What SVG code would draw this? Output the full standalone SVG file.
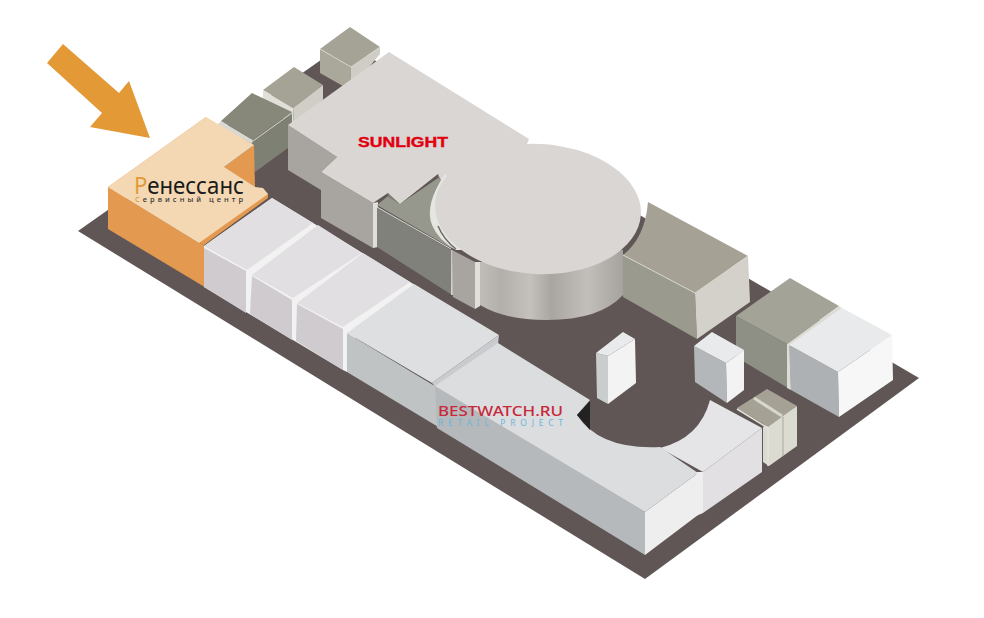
<svg xmlns="http://www.w3.org/2000/svg" width="984" height="618" viewBox="0 0 984 618">
<style>
.sans{font-family:"Noto Sans","Open Sans","Liberation Sans",sans-serif}
.strip{fill:#f2f2f2}
.rowtop{fill:#e1dfe1}
.rowleft{fill:#cfcbcf}
.slate{fill:#a8a4a0}
.roof{fill:#d9d6d3}
</style>
<defs>
<linearGradient id="cyl" x1="0" x2="1" y1="0" y2="0">
<stop offset="0" stop-color="#c0bdb9"/><stop offset=".15" stop-color="#b3b0ab"/><stop offset=".35" stop-color="#c4c1bd"/><stop offset=".5" stop-color="#a9a6a1"/><stop offset=".75" stop-color="#c2bfbb"/><stop offset="1" stop-color="#a6a39e"/>
</linearGradient>
</defs>
<rect width="984" height="618" fill="#fff"/>
<polygon id="ground" points="78,231 345,43 919,378 645,579" fill="#615656"/>

<g id="cube-back">
<polygon points="320,49 350,27 380,47 351,67" fill="#a5a395"/>
<polygon points="320,49 351,67 350,90 320,73" fill="#a9a89b"/>
<polygon points="351,67 380,47 380,54 350,90" fill="#cfcdc5"/>
<polyline points="320,49 351,67 380,47" fill="none" stroke="#d8d7cf" stroke-width="1"/>
</g>
<g id="cube-2">
<polygon points="263,90 294,67 323,85 293,108" fill="#a5a395"/>
<polygon points="293,108 323,85 323,100 294,125" fill="#d0cec6"/>
<polygon points="263,90 293,108 294,125 263,105" fill="#e0dfd8"/>
</g>
<g id="cube-1">
<polygon points="217,125 221,121 253,140 254,145" fill="#d9d9d2"/>
<polygon points="221,121 252,93 292,112 253,140" fill="#878879"/>
<polygon points="253,140 292,112 292,145 255,172 250,150" fill="#7f8074"/>
<polyline points="253,141 292,113" fill="none" stroke="#d5d5cc" stroke-width="1"/>
</g>

<g id="sunlight">
<polygon class="slate" points="288,125 337,157 321,172 321,190 288,170"/>
<polygon class="slate" points="321,172 373,203 373,248 321,218"/>
<polygon points="373,203 378,202 378,247 373,248" fill="#e0dfdb"/>
<polygon points="377,207 451,250 452,295 377,247" fill="#80817a"/>
<polygon points="377,205 388,196 400,204 438,178 445,175 432,200 437,227 456,249 451,248" fill="#96978d"/>
<polyline points="377,207 451,249" fill="none" stroke="#dcdcd5" stroke-width="1"/>
<line x1="452" y1="250" x2="452" y2="295" stroke="#eeeeea" stroke-width="1.500"/>
<polygon class="slate" points="452,250 475,262 475,309 453,297"/>
<polygon points="475,262 480,262 480,306 475,309" fill="#e0dfdb"/>
<path d="M480,262 L623,250 L623,295 Q600,320 547,320 Q505,320 480,305 Z" fill="url(#cyl)"/>
<polygon points="388,193 400,201 400,204 388,197" fill="#7f7d78"/>
<polygon points="438,174 445,176 443,181 438,178" fill="#7f7d78"/>
<polygon class="roof" points="389,52 529,139 527,144 560,180 470,240 438,174 400,204 388,193 373,203 321,172 337,157 288,125"/>
<path d="M445,174 Q424,205 432,225 Q438,240 456,250 L470,250 L460,190 Z" fill="#e6e6e0"/>
<path d="M438,226 Q444,240 456,249" fill="none" stroke="#6f6d69" stroke-width="1.500"/>
<ellipse cx="538" cy="209" rx="103" ry="65" transform="rotate(3 538 209)" class="roof"/>
</g>

<g id="block-big">
<polygon points="623,255 695,293 697,339 623,297" fill="#9b9a8e"/>
<polygon points="695,293 748,256 750,302 697,339" fill="#d3d1ca"/>
<path d="M648,202 L748,256 L695,293 L623,255 Q645,238 648,202 Z" fill="#a5a295"/>
<polyline points="623,255 695,293 748,256" fill="none" stroke="#dcdad2" stroke-width="1"/>
</g>

<g id="cube-green">
<polygon points="736,316 787,344 788,388 736,357" fill="#8e8f85"/>
<polygon points="736,316 790,278 839,306 787,344" fill="#a3a397"/>
<polygon points="787,344 839,306 842,308 790,346 791,390 787,388" fill="#dcdcd4"/>
</g>
<g id="cube-white">
<polygon points="789,345 838,372 839,417 791,390" fill="#adb1b3"/>
<polygon points="838,372 892,335 893,380 839,417" fill="#f7f7f7"/>
<polygon points="789,345 842,308 892,335 838,372" fill="#e9eaeb"/>
</g>
<g id="cube-small">
<polygon points="694,346 726,363 727,403 695,382" fill="#b3b7b9"/>
<polygon points="726,363 744,350 744,390 727,403" fill="#f3f3f3"/>
<polygon points="694,346 712,332 744,350 726,363" fill="#e9eaec"/>
</g>
<g id="tower">
<polygon points="596,353 608,356 608,404 597,398" fill="#c9cdce"/>
<polygon points="608,356 635,339 636,383 608,404" fill="#f3f3f3"/>
<polygon points="596,353 623,332 635,339 608,356" fill="#e9eaec"/>
</g>
<g id="kiosk">
<polygon points="763,427 797,406 797,446 769,466 763,462" fill="#dcdbd2"/>
<polygon points="737,408 767,389 797,406 768,427" fill="#a5a295"/>
<line x1="754" y1="398" x2="782" y2="416" stroke="#d8d7ce" stroke-width="3"/>
<polyline points="737,409 768,428 768,466" fill="none" stroke="#e4e3dc" stroke-width="1.500"/>
<line x1="783" y1="417" x2="783" y2="456" stroke="#a9a89d" stroke-width="1"/>
</g>

<g id="renaissance">
<polygon points="108,187 199,243 204,245 268,198 268,194 255,187 254,145 224,167 206,117" fill="#e39a50"/>
<polygon points="108,187 199,243 204,245 204,287 203,286 108,229" fill="#e39a50"/>
<polygon points="108,187 206,117 254,145 224,167 255,187 263,188 268,194 199,243" fill="#f3d8b3"/>
</g>

<g id="row">
<polygon class="strip" points="204,246 272,198 420,288 352,340 347,372 343,370 204,287"/>
<polygon class="rowtop" points="204,246 272,198 313,223 247,270"/>
<polygon class="rowleft" points="204,248 246,271 246,313 204,287"/>
<polygon class="rowtop" points="252,275 318,225 362,253 293,298"/>
<polygon class="rowleft" points="252,276 292,300 292,340 250,314"/>
<polygon class="rowtop" points="297,303 363,253 410,282 343,327"/>
<polygon class="rowleft" points="297,304 343,329 343,370 296,341"/>
</g>
<g id="block-4">
<polygon points="347,333 438,388 440,428 347,372" fill="#bfc3c4"/>
<polygon points="347,333 414,284 499,335 432,383" fill="#dddfe1"/>
<polygon points="432,383 499,335 498,344 436,388" fill="#c9ccce"/>
</g>
<g id="block-end">
<polygon points="703,472 762,428 762,472 703,513" fill="#e2e0e2"/>
<polygon points="696,472 703,472 703,513 696,516" fill="#efedef"/>
<path d="M660,448 Q700,438 710,400 L762,428 L703,472 Z" fill="#e5e4e6"/>
</g>
<g id="bestwatch">
<polygon points="435,385 645,512 645,555 437,428" fill="#b5b9bb"/>
<polygon points="645,512 698,473 698,515 645,555" fill="#eeeeee"/>
<path d="M435,386 L498,343 L590,400 L577,415 Q600,450 660,447 L698,473 L645,512 Z" fill="#dbdddf"/>
<polygon points="590,401 577,415 590,430" fill="#222222"/>
</g>

<polygon id="arrow" points="63,44 119,93 129,81 150,138 90,127 102,113 47,63" fill="#e39a36"/>

<g id="labels">
<text class="sans" x="134" y="194" font-size="23.500" textLength="110" lengthAdjust="spacingAndGlyphs" fill="#1a1a1a"><tspan fill="#e39a36">Р</tspan>енессанс</text>
<text class="sans" x="135" y="202" font-size="7.500" font-weight="500" textLength="108" fill="#333"><tspan fill="#e39a36">С</tspan>ервисный центр</text>
<text x="358" y="147" font-family="'Liberation Sans',sans-serif" font-weight="700" font-size="15" textLength="90" lengthAdjust="spacingAndGlyphs" fill="#e2000f" stroke="#e2000f" stroke-width=".4">SUNLIGHT</text>
<text class="sans" x="438" y="416" font-size="15" font-weight="500" textLength="125" lengthAdjust="spacingAndGlyphs" fill="#c8283c">BESTWATCH.RU</text>
<text class="sans" x="438" y="425.500" font-size="8.500" textLength="125" fill="#6db5dc">RETAIL PROJECT</text>
</g>
</svg>
